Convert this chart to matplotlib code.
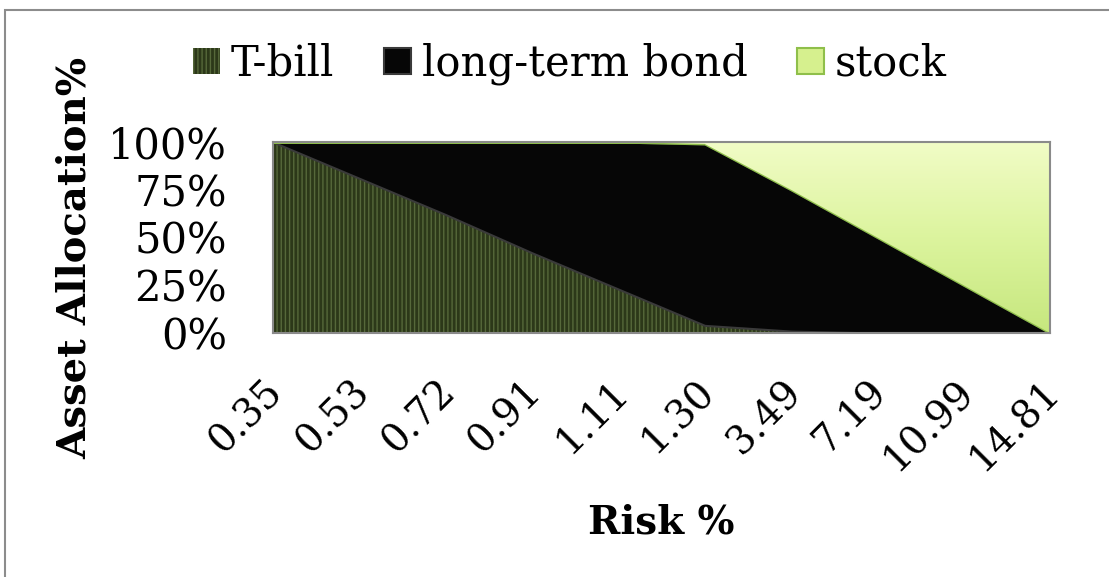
import numpy as np
import matplotlib
matplotlib.use("Agg")
import matplotlib.pyplot as plt
from matplotlib.patches import Rectangle
from matplotlib.transforms import ScaledTranslation

risk = ["0.35", "0.53", "0.72", "0.91", "1.11", "1.30", "3.49", "7.19", "10.99", "14.81"]
tbill = [100, 81, 62, 42, 23, 4, 1, 0, 0, 0]
bond = [0, 19, 38, 58, 77, 95, 74, 50, 25, 0]
stock = [0, 0, 0, 0, 0, 1, 25, 50, 75, 100]

plt.rcParams['font.family'] = 'DejaVu Serif'
plt.rcParams['hatch.linewidth'] = 1.0

fig = plt.figure(figsize=(11.09, 5.77), dpi=100)
ax = fig.add_axes([273 / 1109, 1 - 333 / 577, 777 / 1109, 191 / 577])

x = np.arange(len(risk))
polys = ax.stackplot(x, tbill, bond, stock,
                     colors=['#2c3819', '#060606', '#d6f08e'],
                     labels=['T-bill', 'long-term bond', 'stock'])

# striped olive for T-bill
polys[0].set_hatch('||||')
polys[0].set_edgecolor('#56683a')
polys[0].set_linewidth(0)
polys[1].set_edgecolor('#3a3a3a')
polys[1].set_linewidth(1.5)

# light green gradient for stock, clipped to its area
grad = np.linspace(0, 1, 256).reshape(-1, 1)
cmap = matplotlib.colors.LinearSegmentedColormap.from_list(
    'stk', ['#c6e77e', '#dcf49e', '#f1fcc6'])
img = ax.imshow(grad, extent=[0, 9, 0, 100], origin='lower', cmap=cmap,
                aspect='auto', zorder=polys[2].get_zorder() + 0.1)
img.set_clip_path(polys[2].get_paths()[0], transform=ax.transData)
polys[2].set_edgecolor('#8fbf4a')
polys[2].set_linewidth(1.5)

ax.set_xlim(0, 9)
ax.set_ylim(0, 100)
ax.set_yticks([0, 25, 50, 75, 100])
ax.set_yticklabels(['0%', '25%', '50%', '75%', '100%'], fontsize=30)
ax.set_xticks(x)
ax.set_xticklabels(risk, fontsize=28, rotation=45, ha='right', va='top',
                   rotation_mode='anchor')
ax.tick_params(length=0)
ax.tick_params(axis='y', pad=33)
ax.tick_params(axis='x', pad=14)
shift = ScaledTranslation(-9 / 100, -21 / 100, fig.dpi_scale_trans)
for lab in ax.get_xticklabels():
    lab.set_transform(lab.get_transform() + shift)
for s in ax.spines.values():
    s.set_color('#8a8a8a')
    s.set_linewidth(1.5)

ax.set_xlabel('Risk %', fontsize=28, fontweight='bold', va='center')
ax.xaxis.set_label_coords(0.5, (333 - 523) / 191)
ax.set_ylabel('Asset Allocation%', fontsize=29, fontweight='bold', va='center')
ax.yaxis.set_label_coords((75 - 273) / 777, (333 - 258) / 191)

handles, labels = ax.get_legend_handles_labels()
leg = fig.legend(handles, labels, loc='center', bbox_to_anchor=(570 / 1109, 1 - 64 / 577),
                 ncol=3, frameon=False, fontsize=30, handlelength=0.65,
                 handleheight=0.55, handletextpad=0.25, columnspacing=1.2)

fig.patches.append(Rectangle((0.0045, -0.01), 1.0, 0.993, transform=fig.transFigure,
                             fill=False, edgecolor='#8c8c8c', linewidth=1.5))

fig.savefig('out.png', dpi=100)
